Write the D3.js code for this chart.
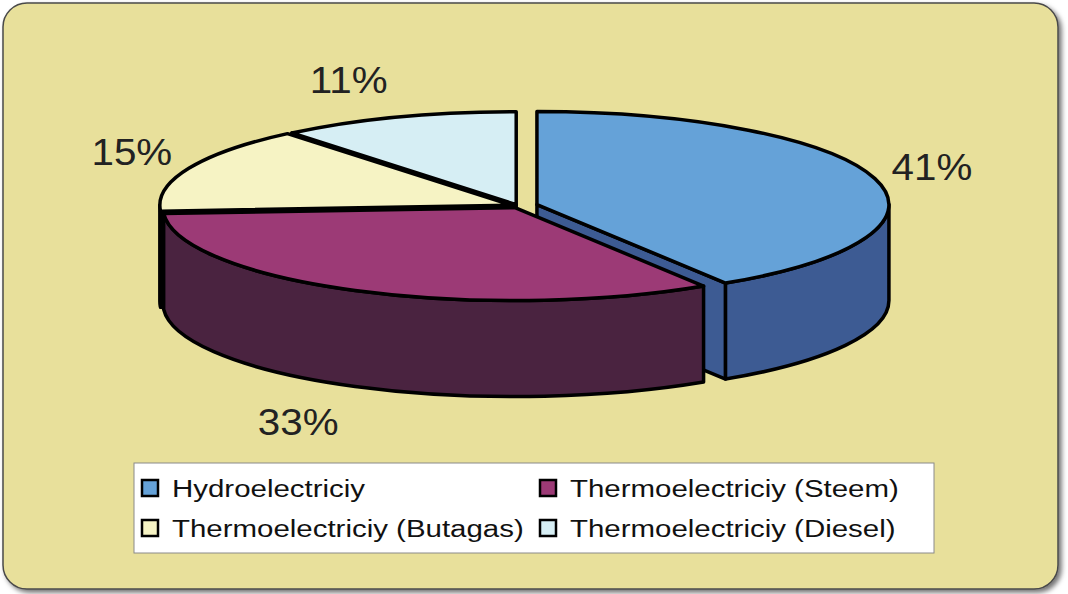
<!DOCTYPE html>
<html>
<head>
<meta charset="utf-8">
<script src="https://cdn.jsdelivr.net/npm/d3@7"></script>
<style>
  html, body { margin: 0; padding: 0; background: #fff; }
  svg { display: block; }
  text { font-family: "Liberation Sans", Arial, Helvetica, sans-serif; }
</style>
</head>
<body>
<div id="chart"></div>
<script>
// chart data
const categories = ['Hydroelectriciy', 'Thermoelectriciy (Steem)', 'Thermoelectriciy (Butagas)', 'Thermoelectriciy (Diesel)'];
const shares = [41, 33, 15, 11];

class Pie3D {
  constructor(_config, _categories, _values) {
    this.config = {
      parentElement: _config.parentElement,
      containerWidth: 1068,
      containerHeight: 594,
      center: { x: 518, y: 206 },
      rx: 352,
      ry: 93,
      depth: 96,
      explode: [0.056, 0.019, 0.019, 0.015],
      topColors: ['#65a2d8', '#9c3a76', '#f6f3c4', '#d6eef4'],
      sideColors: ['#3d5b93', '#4a2340', '#55625e', '#8fb0b8'],
      labelSize: 36,
      labelStretch: 1.12,
      legendSize: 23,
      legendStretch: 1.28,
    };
    this.categories = _categories;
    this.values = _values;

    this.initVis();
  }

  /* svg, background panel, scales */
  initVis() {
    const vis = this;

    vis.svg = d3.select(vis.config.parentElement).append('svg')
      .attr('width', vis.config.containerWidth)
      .attr('height', vis.config.containerHeight);

    const shadow = vis.svg.append('defs').append('filter')
      .attr('id', 'panel-shadow')
      .attr('x', '-5%').attr('y', '-5%')
      .attr('width', '110%').attr('height', '110%');
    shadow.append('feDropShadow')
      .attr('dx', 3).attr('dy', 3)
      .attr('stdDeviation', 2.5)
      .attr('flood-color', '#000')
      .attr('flood-opacity', 0.55);

    /* yellow rounded panel */
    vis.svg.append('rect')
      .attr('x', 3).attr('y', 3)
      .attr('width', 1055).attr('height', 586)
      .attr('rx', 24).attr('ry', 24)
      .attr('fill', '#e8e09b')
      .attr('stroke', '#4a4a4a')
      .attr('stroke-width', 1.5)
      .attr('filter', 'url(#panel-shadow)');

    vis.topColor = d3.scaleOrdinal().domain(vis.categories).range(vis.config.topColors);
    vis.sideColor = d3.scaleOrdinal().domain(vis.categories).range(vis.config.sideColors);

    vis.pie = d3.pie()
      .sort(null)
      .value((d) => d.value);

    vis.chart = vis.svg.append('g');
    vis.labels = vis.svg.append('g');
    vis.legend = vis.svg.append('g').attr('transform', 'translate(134, 463)');

    vis.updateVis();
  }

  /* pie layout + explode offsets */
  updateVis() {
    const vis = this;
    const { center, rx, ry } = vis.config;

    vis.arcs = vis.pie(vis.categories.map((c, i) => ({ name: c, value: vis.values[i] })));
    vis.arcs.forEach((d, i) => {
      d.mid = (d.startAngle + d.endAngle) / 2;
      const e = vis.config.explode[i];
      d.cx = center.x + e * rx * Math.sin(d.mid);
      d.cy = center.y - e * ry * Math.cos(d.mid);
    });

    // back slices first
    vis.drawOrder = vis.arcs.slice().sort((a, b) => -Math.cos(a.mid) + Math.cos(b.mid));

    vis.renderVis();
  }

  renderVis() {
    const vis = this;
    const { rx, ry, depth } = vis.config;

    const pt = (d, a, dy = 0) => `${d.cx + rx * Math.sin(a)},${d.cy - ry * Math.cos(a) + dy}`;
    const topPath = (d) => {
      const large = d.endAngle - d.startAngle > Math.PI ? 1 : 0;
      return `M${d.cx},${d.cy}L${pt(d, d.startAngle)}A${rx},${ry} 0 ${large} 1 ${pt(d, d.endAngle)}Z`;
    };
    const wallPath = (d) => {
      const s = Math.max(d.startAngle, Math.PI / 2);
      const e = Math.min(d.endAngle, Math.PI * 1.5);
      if (e <= s) return null;
      return `M${pt(d, s)}A${rx},${ry} 0 0 1 ${pt(d, e)}L${pt(d, e, depth)}A${rx},${ry} 0 0 0 ${pt(d, s, depth)}Z`;
    };
    const facePath = (d, a) => `M${d.cx},${d.cy}L${pt(d, a)}L${pt(d, a, depth)}L${d.cx},${d.cy + depth}Z`;

    const slices = vis.chart.selectAll('.slice')
      .data(vis.drawOrder)
      .join('g')
      .attr('class', 'slice')
      .attr('stroke', '#000')
      .attr('stroke-width', 3.5)
      .attr('stroke-linejoin', 'round');

    /* radial side faces that look toward the viewer */
    slices.each(function (d) {
      const g = d3.select(this);
      const faces = [];
      if (Math.sin(d.startAngle) < -1e-6) faces.push(d.startAngle);
      if (Math.sin(d.endAngle) > 1e-6) faces.push(d.endAngle);
      g.selectAll('.face').data(faces).join('path')
        .attr('class', 'face')
        .attr('d', (a) => facePath(d, a))
        .attr('fill', vis.sideColor(d.data.name));
      const wall = wallPath(d);
      if (wall) {
        g.append('path').attr('class', 'wall')
          .attr('d', wall)
          .attr('fill', vis.sideColor(d.data.name));
      }
      g.append('path').attr('class', 'top')
        .attr('d', topPath(d))
        .attr('fill', vis.topColor(d.data.name));
    });

    /* percentage labels outside each slice */
    vis.labels.selectAll('text')
      .data(vis.arcs)
      .join('text')
      .attr('font-size', vis.config.labelSize)
      .attr('fill', '#222')
      .text((d) => `${d.data.value}%`)
      .each(function (d) {
        const t = d3.select(this);
        const w = this.getComputedTextLength() * vis.config.labelStretch;
        const ux = Math.sin(d.mid);
        const uy = -Math.cos(d.mid);
        const ex = d.cx + rx * ux;
        const ey = d.cy + ry * uy + (uy > 0 ? depth : 0);
        const lx = ex + Math.sign(ux) * 57 * Math.min(1, Math.abs(ux) / 0.4);
        const ly = ey + uy * 40;
        t.attr('x', lx - w / 2)
          .attr('y', ly)
          .attr('dy', '0.36em')
          .attr('textLength', w)
          .attr('lengthAdjust', 'spacingAndGlyphs');
      });

    /* legend box */
    vis.legend.append('rect')
      .attr('width', 800).attr('height', 90)
      .attr('fill', '#fff')
      .attr('stroke', '#8a8a8a')
      .attr('stroke-width', 1);

    const colX = d3.scalePoint().domain([0, 1]).range([8, 406]);
    const rowY = d3.scalePoint().domain([0, 1]).range([17, 57]);

    const items = vis.legend.selectAll('.legend-item')
      .data(vis.categories)
      .join('g')
      .attr('class', 'legend-item')
      .attr('transform', (d, i) => `translate(${colX(i % 2)}, ${rowY(Math.floor(i / 2))})`);
    items.append('rect')
      .attr('width', 16).attr('height', 16)
      .attr('fill', (d) => vis.topColor(d))
      .attr('stroke', '#000')
      .attr('stroke-width', 2.5);
    items.append('text')
      .attr('x', 30)
      .attr('y', 17)
      .attr('font-size', vis.config.legendSize)
      .attr('fill', '#111')
      .text((d) => d)
      .each(function () {
        d3.select(this)
          .attr('textLength', this.getComputedTextLength() * vis.config.legendStretch)
          .attr('lengthAdjust', 'spacingAndGlyphs');
      });
  }
}

new Pie3D({ parentElement: '#chart' }, categories, shares);
</script>
</body>
</html>
